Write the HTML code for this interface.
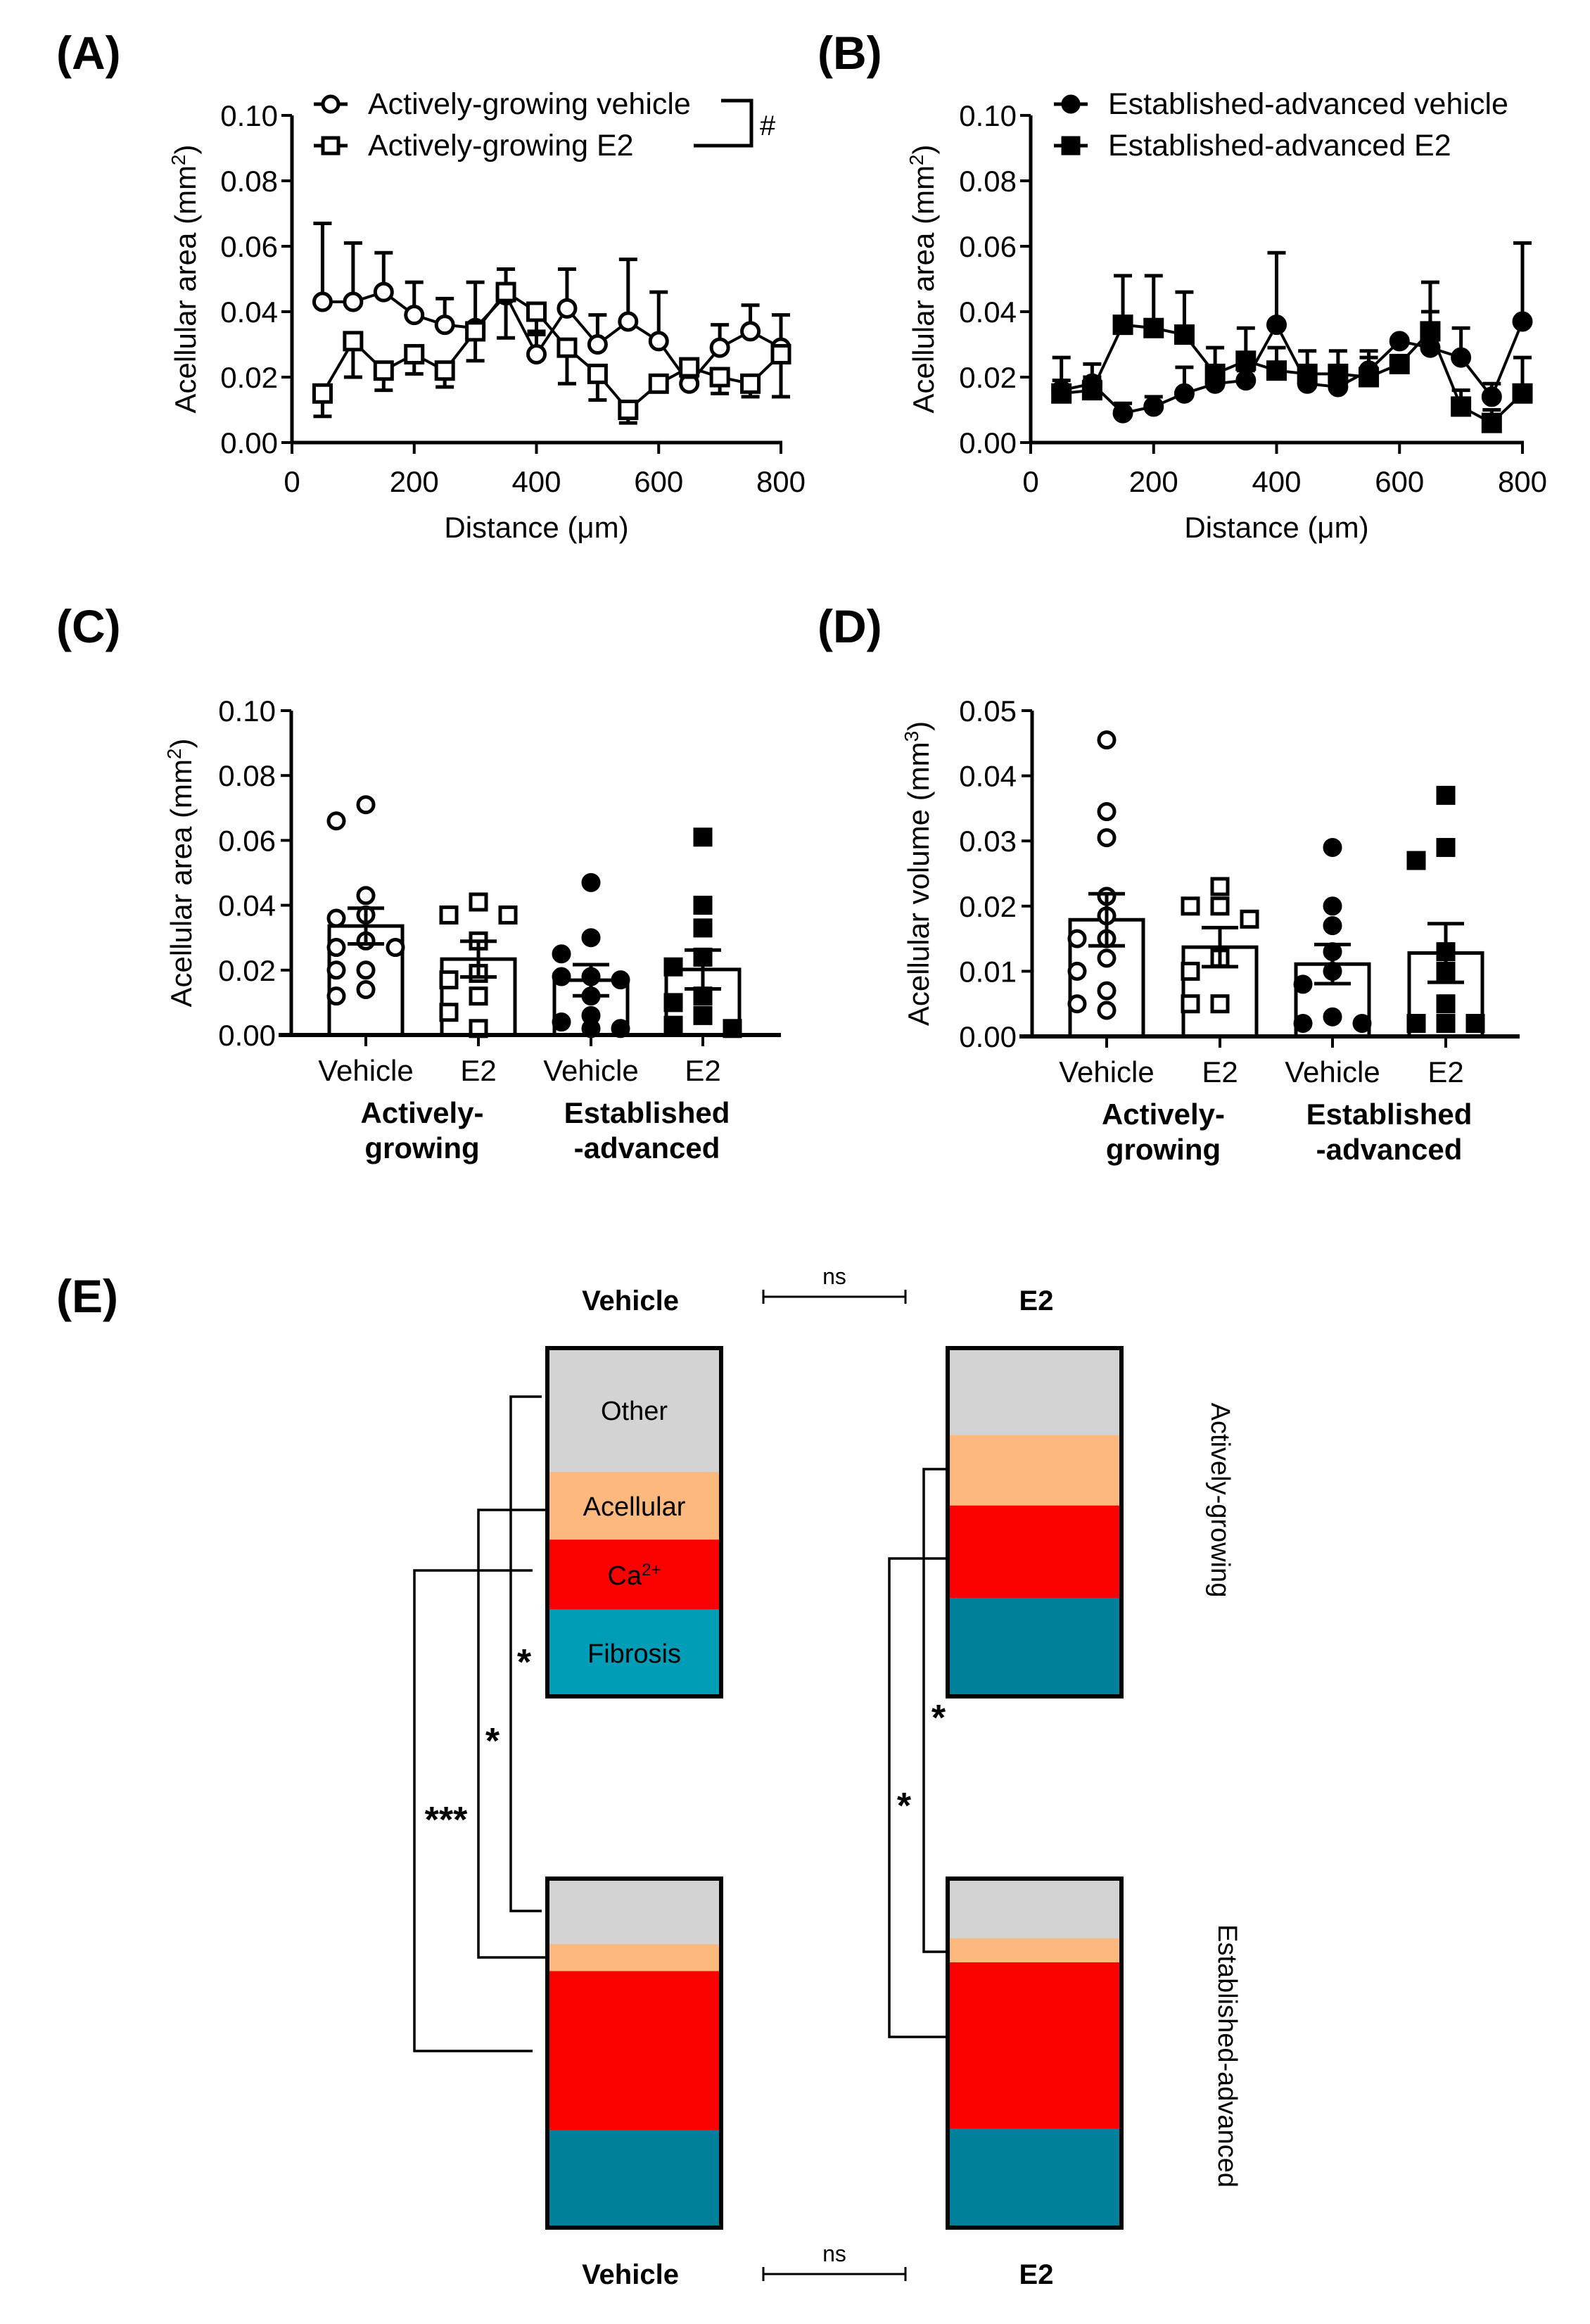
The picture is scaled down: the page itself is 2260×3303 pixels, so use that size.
<!DOCTYPE html>
<html><head><meta charset="utf-8">
<style>
html,body{margin:0;padding:0;background:#fff;}
svg{display:block;font-family:"Liberation Sans",Arial,sans-serif;}
</style></head>
<body>
<svg id="fig" width="2260" height="3303" viewBox="0 0 2260 3303" xmlns="http://www.w3.org/2000/svg">
<rect width="2260" height="3303" fill="#fff"/>
<g id="root"></g>
</svg>
<script>
// ---------- Panel A data ----------
const distA = [50,100,150,200,250,300,350,400,450,500,550,600,650,700,750,800];
const agVehicle = [0.043,0.043,0.046,0.039,0.036,0.035,0.045,0.027,0.041,0.030,0.037,0.031,0.018,0.029,0.034,0.029];
const agVehicleErr = [0.024,0.018,0.012,0.010,0.008,0.014,0.008,0.006,0.012,0.009,0.019,0.015,0.003,0.007,0.008,0.010];
const agE2 = [0.015,0.031,0.022,0.027,0.022,0.034,0.046,0.040,0.029,0.021,0.010,0.018,0.023,0.020,0.018,0.027];
const agE2Err = [0.007,0.011,0.006,0.006,0.005,0.009,0.014,0.006,0.011,0.008,0.004,0.002,0.003,0.005,0.004,0.013];
// ---------- Panel B data ----------
const eaVehicle = [0.016,0.018,0.009,0.011,0.015,0.018,0.019,0.036,0.018,0.017,0.022,0.031,0.029,0.026,0.014,0.037];
const eaVehicleErr = [0.003,0.002,0.003,0.003,0.008,0.004,0.003,0.022,0.002,0.002,0.004,0.001,0.020,0.009,0.004,0.024];
const eaE2 = [0.015,0.016,0.036,0.035,0.033,0.021,0.025,0.022,0.021,0.021,0.020,0.024,0.034,0.011,0.006,0.015];
const eaE2Err = [0.011,0.008,0.015,0.016,0.013,0.008,0.010,0.007,0.007,0.007,0.008,0.002,0.006,0.005,0.004,0.011];
const xTicksAB = [0,200,400,600,800];
const yTicksAB = ["0.00","0.02","0.04","0.06","0.08","0.10"];
// ---------- Panel C data ----------
const groupLabels = ["Vehicle","E2","Vehicle","E2"];
const cMeans = [0.0336,0.0234,0.0169,0.0202];
const cSem = [0.0055,0.0055,0.0048,0.0060];
const cAgVeh = [0.071,0.066,0.043,0.037,0.036,0.029,0.027,0.027,0.020,0.020,0.014,0.012];
const cAgE2 = [0.041,0.037,0.037,0.029,0.019,0.017,0.012,0.007,0.002];
const cEaVeh = [0.047,0.030,0.025,0.018,0.018,0.017,0.012,0.006,0.004,0.002,0.002];
const cEaE2 = [0.061,0.040,0.033,0.024,0.021,0.012,0.010,0.006,0.003,0.002];
const yTicksC = ["0.00","0.02","0.04","0.06","0.08","0.10"];
// ---------- Panel D data ----------
const dMeans = [0.0179,0.0137,0.0111,0.0128];
const dSem = [0.0040,0.0030,0.0030,0.0045];
const dAgVeh = [0.0455,0.0345,0.0305,0.0215,0.0185,0.0150,0.0150,0.0120,0.0100,0.0070,0.0050,0.0040];
const dAgE2 = [0.023,0.020,0.020,0.018,0.012,0.010,0.005,0.005];
const dEaVeh = [0.029,0.020,0.017,0.013,0.010,0.008,0.003,0.002,0.002];
const dEaE2 = [0.037,0.029,0.027,0.013,0.010,0.005,0.002,0.002,0.002];
const yTicksD = ["0.00","0.01","0.02","0.03","0.04","0.05"];
// ---------- Panel E data (percent composition) ----------
const compCategories = ["Other","Acellular","Ca","Fibrosis"];
const compAgVehicle = [35.6,19.4,20.0,25.0];
const compAgE2 = [25.0,20.2,26.5,28.3];
const compEaVehicle = [18.8,7.7,45.5,28.0];
const compEaE2 = [17.1,6.9,47.6,28.4];

const NS = "http://www.w3.org/2000/svg";
const root = document.getElementById("root");
function el(tag, attrs, parent, text){
  const e = document.createElementNS(NS, tag);
  for (const k in attrs) e.setAttribute(k, attrs[k]);
  if (text !== undefined) e.textContent = text;
  (parent || root).appendChild(e);
  return e;
}
function line(x1,y1,x2,y2,w,parent){ return el("line",{x1:x1,y1:y1,x2:x2,y2:y2,stroke:"#000","stroke-width":w||5},parent); }

function marker(g, shape, filled, x, y, s){
  let m;
  if (shape === "circle") m = el("circle",{cx:x,cy:y,r:s,fill:filled?"#000":"#fff",stroke:"#000","stroke-width":5},g);
  else m = el("rect",{x:x-s,y:y-s,width:2*s,height:2*s,fill:filled?"#000":"#fff",stroke:"#000","stroke-width":5},g);
  return m;
}

function panelLabel(txt,x,y){
  const t = el("text",{x:x,y:y,"font-size":66,"font-weight":"bold"},root,txt);
  
  
}

// ---------- line charts ----------
function lineChart(cfg){
  const g = el("g",{});
  
  
  const X = v => cfg.x0 + (v/800)*(cfg.x1-cfg.x0);
  const Y = v => cfg.y0 - (v/0.1)*(cfg.y0-cfg.yTop);
  line(cfg.x0, cfg.yTop, cfg.x0, cfg.y0+2, 5, g);
  line(cfg.x0-2, cfg.y0, cfg.x1+2, cfg.y0, 5, g);
  yTicksAB.forEach(function(lbl){
    const v = parseFloat(lbl), y = Y(v);
    line(cfg.x0-15, y, cfg.x0, y, 4, g);
    const t = el("text",{x:cfg.x0-20,y:y+15,"font-size":42,"text-anchor":"end"},g,lbl);
    
    
  });
  xTicksAB.forEach(function(v){
    const x = X(v);
    line(x, cfg.y0, x, cfg.y0+16, 4, g);
    const t = el("text",{x:x,y:cfg.y0+70,"font-size":42,"text-anchor":"middle"},g,String(v));
    
    
  });
  const xt = el("text",{x:(cfg.x0+cfg.x1)/2,y:cfg.y0+135,"font-size":42,"text-anchor":"middle"},g,"Distance (\u03BCm)");
  
  
  const yt = el("text",{transform:"translate("+(cfg.ytX)+","+((cfg.y0+cfg.yTop)/2)+") rotate(-90)","font-size":42,"text-anchor":"middle"},g);
  
  
  el("tspan",{},yt,"Acellular area (mm");
  el("tspan",{"baseline-shift":"super","font-size":28},yt,"2");
  el("tspan",{},yt,")");
  cfg.series.forEach(function(s){
    const sg = el("g",{},g);
    
    
    s.values.forEach(function(v,i){
      const x = X(distA[i]);
      const ye = Y(v + s.dir*s.err[i]);
      line(x, Y(v), x, ye, 5, sg);
      line(x-13, ye, x+13, ye, 5, sg);
    });
    const pts = s.values.map(function(v,i){ return X(distA[i])+","+Y(v); }).join(" ");
    const pl = el("polyline",{points:pts,fill:"none",stroke:"#000","stroke-width":4},sg);
    
    
    s.values.forEach(function(v,i){
      const m = marker(sg, s.shape, s.filled, X(distA[i]), Y(v), 12);
      
      
    });
  });
  cfg.series.forEach(function(s,i){
    const ly = cfg.legY + i*59;
    const lg = el("g",{},g);
    
    
    line(cfg.legX-24, ly, cfg.legX+24, ly, 5, lg);
    marker(lg, s.shape, s.filled, cfg.legX, ly, 11);
    el("text",{x:cfg.legX+53,y:ly+14,"font-size":43},lg,s.label);
  });
  return g;
}

lineChart({name:"panel-a-chart",x0:415,x1:1110,y0:629,yTop:164,ytX:278,legX:470,legY:148,
  series:[
   {name:"ag-vehicle-series",label:"Actively-growing vehicle",values:agVehicle,err:agVehicleErr,dir:1,shape:"circle",filled:false},
   {name:"ag-e2-series",label:"Actively-growing E2",values:agE2,err:agE2Err,dir:-1,shape:"square",filled:false}
  ]});
lineChart({name:"panel-b-chart",x0:1465,x1:2164,y0:629,yTop:164,ytX:1327,legX:1522,legY:148,
  series:[
   {name:"ea-vehicle-series",label:"Established-advanced vehicle",values:eaVehicle,err:eaVehicleErr,dir:1,shape:"circle",filled:true},
   {name:"ea-e2-series",label:"Established-advanced E2",values:eaE2,err:eaE2Err,dir:1,shape:"square",filled:true}
  ]});
(function(){
  const g = el("g",{});
  
  
  el("polyline",{points:"1025,143 1068,143 1068,207 986,207",fill:"none",stroke:"#000","stroke-width":5},g);
  el("text",{x:1080,y:192,"font-size":40},g,"#");
})();
panelLabel("(A)",80,98);
panelLabel("(B)",1162,98);

// ---------- bar/dot charts ----------
function barChart(cfg){
  const g = el("g",{});
  
  
  const Y = v => cfg.y0 - (v/cfg.max)*(cfg.y0-cfg.yTop);
  const groups = [cfg.p0,cfg.p1,cfg.p2,cfg.p3];
  const shapes = [["circle",false],["square",false],["circle",true],["square",true]];
  const bw = 104;
  cfg.means.forEach(function(m,i){
    const cx = cfg.centers[i];
    const b = el("rect",{x:cx-bw/2,y:Y(m),width:bw,height:cfg.y0-Y(m),fill:"#fff",stroke:"#000","stroke-width":5},g);
    
    
  });
  groups.forEach(function(vals,i){
    const cx = cfg.centers[i];
    const placed = [];
    const pg = el("g",{},g);
    
    
    vals.forEach(function(v){
      const y = Y(v);
      const cands = [0,-42,42,-21,21];
      let off = 0;
      for (const c of cands){
        if (placed.every(p => Math.hypot(p[0]-c, p[1]-y) > 27)) { off = c; break; }
      }
      placed.push([off,y]);
      const mk = marker(pg, shapes[i][0], shapes[i][1], cx+off, y, 11);
      
      
    });
  });
  cfg.means.forEach(function(m,i){
    const cx = cfg.centers[i];
    const eg = el("g",{},g);
    
    
    line(cx, Y(m+cfg.sem[i]), cx, Y(m-cfg.sem[i]), 5, eg);
    line(cx-26, Y(m+cfg.sem[i]), cx+26, Y(m+cfg.sem[i]), 5, eg);
    line(cx-26, Y(m-cfg.sem[i]), cx+26, Y(m-cfg.sem[i]), 5, eg);
  });
  line(cfg.x0, cfg.yTop, cfg.x0, cfg.y0+2, 5, g);
  line(cfg.x0-18, cfg.y0, cfg.x1, cfg.y0, 6, g);
  cfg.ticks.forEach(function(lbl){
    const y = Y(parseFloat(lbl));
    line(cfg.x0-15, y, cfg.x0, y, 4, g);
    const t = el("text",{x:cfg.x0-22,y:y+15,"font-size":42,"text-anchor":"end"},g,lbl);
    
    
  });
  cfg.centers.forEach(function(cx,i){
    line(cx, cfg.y0, cx, cfg.y0+16, 4, g);
    const t = el("text",{x:cx,y:cfg.y0+65,"font-size":42,"text-anchor":"middle"},g,groupLabels[i]);
    
    
  });
  const gA = (cfg.centers[0]+cfg.centers[1])/2, gB = (cfg.centers[2]+cfg.centers[3])/2;
  [[gA,"Actively-","growing"],[gB,"Established","-advanced"]].forEach(function(a){
    const t = el("text",{x:a[0],y:cfg.y0+125,"font-size":42,"font-weight":"bold","text-anchor":"middle"},g);
    
    
    el("tspan",{x:a[0]},t,a[1]);
    el("tspan",{x:a[0],dy:50},t,a[2]);
  });
  const yt = el("text",{transform:"translate("+cfg.ytX+","+((cfg.y0+cfg.yTop)/2)+") rotate(-90)","font-size":42,"text-anchor":"middle"},g);
  
  
  el("tspan",{},yt,cfg.ytitle+" (mm");
  el("tspan",{"baseline-shift":"super","font-size":28},yt,cfg.sup);
  el("tspan",{},yt,")");
}
barChart({name:"panel-c-chart",x0:414,x1:1110,y0:1471,yTop:1010,max:0.1,centers:[520,680,840,999],
  means:cMeans,sem:cSem,p0:cAgVeh,p1:cAgE2,p2:cEaVeh,p3:cEaE2,ticks:yTicksC,ytX:272,ytitle:"Acellular area",sup:"2"});
barChart({name:"panel-d-chart",x0:1467,x1:2160,y0:1473,yTop:1010,max:0.05,centers:[1573,1734,1894,2055],
  means:dMeans,sem:dSem,p0:dAgVeh,p1:dAgE2,p2:dEaVeh,p3:dEaE2,ticks:yTicksD,ytX:1320,ytitle:"Acellular volume",sup:"3"});
panelLabel("(C)",80,913);
panelLabel("(D)",1162,913);

// ---------- Panel E ----------
panelLabel("(E)",80,1865);
const compColors = ["#d3d3d3","#fdb97d","#fb0000","#00809a"];
function stack(name, x, yTop, h, vals, fibColor, labels){
  const g = el("g",{});
  
  
  const w = 247;
  let y = yTop;
  vals.forEach(function(v,i){
    const hh = h*v/100;
    const r = el("rect",{x:x,y:y,width:w,height:hh+0.5,fill:(i===3&&fibColor)?fibColor:compColors[i]},g);
    
    
    if (labels){
      const t = el("text",{x:x+w/2,y:y+hh/2+14,"font-size":38,"text-anchor":"middle"},g);
      if (i===2){ el("tspan",{},t,"Ca"); el("tspan",{"baseline-shift":"super","font-size":24},t,"2+"); }
      else t.textContent = compCategories[i];
    }
    y += hh;
  });
  el("rect",{x:x,y:yTop,width:w,height:h,fill:"none",stroke:"#000","stroke-width":6},g);
}
stack("stack-ag-vehicle",778,1916,495,compAgVehicle,"#009db7",true);
stack("stack-ag-e2",1347,1916,495,compAgE2,null,false);
stack("stack-ea-vehicle",778,2670,496,compEaVehicle,null,false);
stack("stack-ea-e2",1347,2670,496,compEaE2,null,false);

function hdr(txt,x,y){
  const t = el("text",{x:x,y:y,"font-size":40,"font-weight":"bold","text-anchor":"middle"},root,txt);
  
  
}
hdr("Vehicle",896,1862); hdr("E2",1473,1862);
hdr("Vehicle",896,3246); hdr("E2",1473,3246);
function nsBar(y){
  const g = el("g",{});
  
  
  line(1085,y,1287,y,3,g); line(1085,y-10,1085,y+10,3,g); line(1287,y-10,1287,y+10,3,g);
  el("text",{x:1186,y:y-18,"font-size":32,"text-anchor":"middle"},g,"ns");
}
nsBar(1843); nsBar(3232);
function bracket(name,x,y1,y2,xe1,xe2,star,sx,sy){
  const g = el("g",{});
  
  
  el("polyline",{points:xe1+","+y1+" "+x+","+y1+" "+x+","+y2+" "+xe2+","+y2,fill:"none",stroke:"#000","stroke-width":3.5},g);
  el("text",{x:sx,y:sy,"font-size":52,"font-weight":"bold","text-anchor":"middle"},g,star);
}
bracket("sig-bracket-other",726,1985,2716,770,770,"*",745,2380);
bracket("sig-bracket-acellular",680,2146,2782,778,778,"*",700,2492);
bracket("sig-bracket-ca",589,2232,2915,757,757,"***",634,2604);
bracket("sig-bracket-e2-acellular",1313,2088,2774,1346,1346,"*",1334,2459);
bracket("sig-bracket-e2-ca",1264,2215,2895,1347,1347,"*",1285,2584);
function side(txt,x,y){
  const t = el("text",{transform:"translate("+x+","+y+") rotate(90)","font-size":38,"text-anchor":"middle"},root,txt);
  
  
}
side("Actively-growing",1722,2132);
side("Established-advanced",1732,2922);
</script>
</body></html>
